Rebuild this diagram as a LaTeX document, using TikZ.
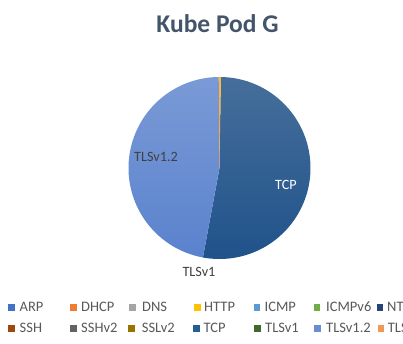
\documentclass[tikz,border=0pt]{standalone}
\usepackage{fontspec}
\setmainfont{Carlito}
\definecolor{titlegray}{HTML}{44546A}
\definecolor{legtext}{HTML}{595959}
\definecolor{lbltext}{HTML}{404040}
\definecolor{tcpTop}{HTML}{466E9B}
\definecolor{tcpBot}{HTML}{1F528A}
\definecolor{tlsTop}{HTML}{7A9AD6}
\definecolor{tlsBot}{HTML}{5A82CD}
\definecolor{cARP}{HTML}{4472C4}
\definecolor{cDHCP}{HTML}{ED7D31}
\definecolor{cDNS}{HTML}{A5A5A5}
\definecolor{cHTTP}{HTML}{FFC000}
\definecolor{cICMP}{HTML}{5B9BD5}
\definecolor{cICMPv}{HTML}{70AD47}
\definecolor{cNTP}{HTML}{264478}
\definecolor{cSSH}{HTML}{9E480E}
\definecolor{cSSHv}{HTML}{636363}
\definecolor{cSSLv}{HTML}{997300}
\definecolor{cTCP}{HTML}{255E91}
\definecolor{cTLSa}{HTML}{43682B}
\definecolor{cTLSb}{HTML}{698ED0}
\definecolor{cTLSc}{HTML}{F1975A}
\tikzset{
  legtxt/.style={anchor=base west,inner sep=0pt,text=legtext,font=\fontsize{14.5}{17}\selectfont},
  pielbl/.style={inner sep=0pt,font=\fontsize{14.2}{17}\selectfont},
}
% legend entry: marker left x, text left x, baseline y, colour, label, name
\newcommand{\legitem}[6]{%
  \fill[#4] (#1,#3+0.8) rectangle ++(6.7,6.7);
  \node[legtxt] (#6) at (#2,#3) {#5};
}
\begin{document}
\begin{tikzpicture}[x=1pt,y=1pt]
\useasboundingbox (0,0) rectangle (403,343);
\fill[white] (0,0) rectangle (403,343);
\clip (0,0) rectangle (403,343);

% title
\node[text=titlegray,font=\bfseries\fontsize{25.5}{30}\selectfont] (title) at (217.5,319) {Kube Pod G};

% pie
\coordinate (c) at (219.5,175);
\def\R{91}
\shade[top color=tcpTop,bottom color=tcpBot]
  (c) -- ++(89.2:\R) arc[start angle=89.2,end angle=-100.5,radius=\R] -- cycle;
\shade[top color=tlsTop,bottom color=tlsBot]
  (c) -- ++(259.5:\R) arc[start angle=259.5,end angle=90.5,radius=\R] -- cycle;
\fill[cDHCP] (c) -- ++(90.5:\R) arc[start angle=90.5,end angle=89.9,radius=\R] -- cycle;
\fill[cHTTP] (c) -- ++(89.9:\R) arc[start angle=89.9,end angle=89.2,radius=\R] -- cycle;

% slice labels
\node[pielbl,text=white] (lblTCP) at (286,158) {TCP};
\node[pielbl,text=lbltext] (lblTLSb) at (156,186) {TLSv1.2};
\node[pielbl,text=lbltext] (lblTLSa) at (199,71) {TLSv1};

% legend, first row
\legitem{8.3}{19.5}{31.5}{cARP}{ARP}{lgARP}
\legitem{70}{81}{31.5}{cDHCP}{DHCP}{lgDHCP}
\legitem{129}{142}{31.5}{cDNS}{DNS}{lgDNS}
\legitem{194}{204}{31.5}{cHTTP}{HTTP}{lgHTTP}
\legitem{253.5}{264.5}{31.5}{cICMP}{ICMP}{lgICMP}
\legitem{313.5}{326}{31.5}{cICMPv}{ICMPv6}{lgICMPv}
\legitem{376.7}{387}{31.5}{cNTP}{NTP}{lgNTP}
% legend, second row
\legitem{8.3}{19.5}{10.5}{cSSH}{SSH}{lgSSH}
\legitem{70}{81}{10.5}{cSSHv}{SSHv2}{lgSSHv}
\legitem{128.3}{141.7}{10.5}{cSSLv}{SSLv2}{lgSSLv}
\legitem{193.3}{203.3}{10.5}{cTCP}{TCP}{lgTCP}
\legitem{254}{265}{10.5}{cTLSa}{TLSv1}{lgTLSa}
\legitem{314.3}{326}{10.5}{cTLSb}{TLSv1.2}{lgTLSb}
\legitem{377.7}{387.7}{10.5}{cTLSc}{TLSv1.3}{lgTLSc}
\end{tikzpicture}
\end{document}
